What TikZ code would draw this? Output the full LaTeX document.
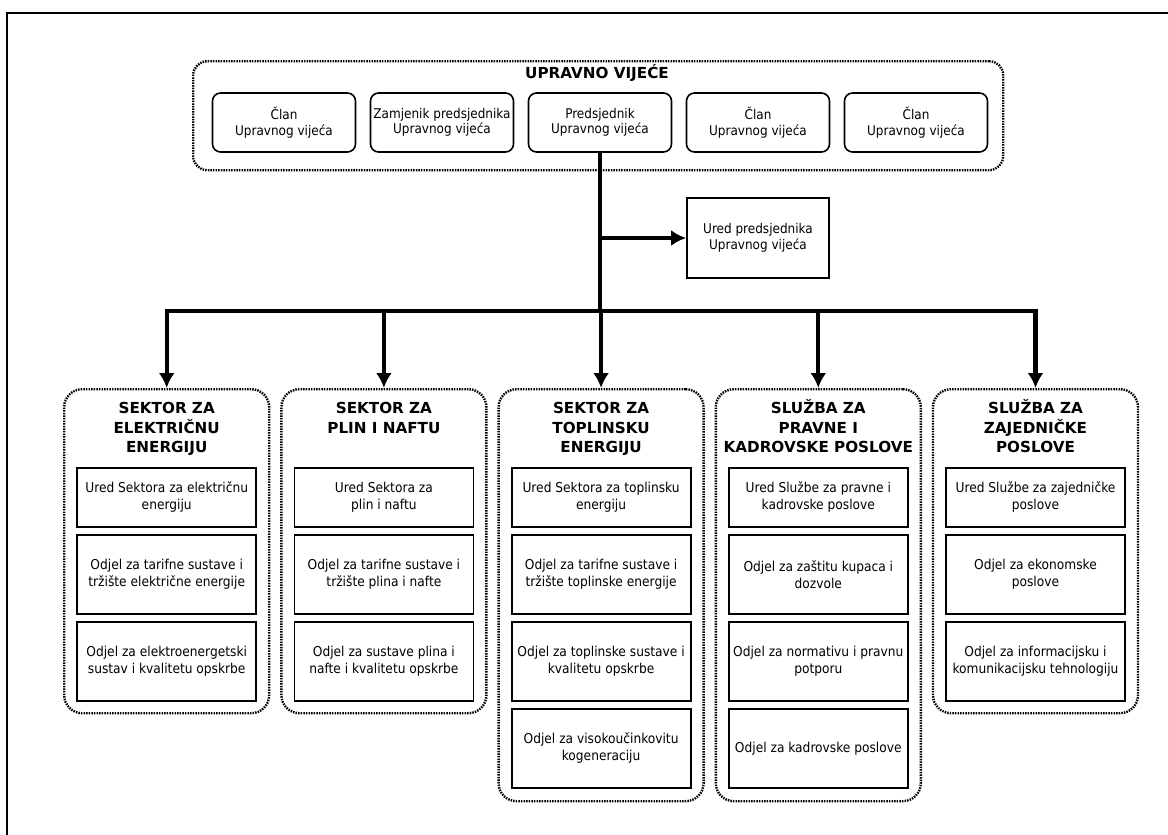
\documentclass[tikz,border=0pt]{standalone}
\usepackage{fontspec}
\setmainfont{DejaVu Sans}
\newfontfamily\condfont{DejaVu Sans Condensed}
\usetikzlibrary{arrows.meta}
\begin{document}
\begin{tikzpicture}[x=1pt,y=-1pt,
 member/.style={draw,line width=1.6pt,rounded corners=8pt,minimum width=143pt,minimum height=59pt,align=center,font=\condfont\fontsize{13.4}{15.5}\selectfont,inner sep=0pt},
 unit/.style={draw,line width=1.8pt,minimum width=179pt,align=center,font=\condfont\fontsize{13.6}{17}\selectfont,inner sep=0pt,anchor=north},
 grp/.style={draw,line width=2.4pt,dash pattern=on 1.5pt off 1.1pt,rounded corners=18pt,anchor=north west,inner sep=0pt,minimum width=205pt},
 ttl/.style={font=\fontsize{15.2}{19.5}\selectfont\bfseries,align=center,inner sep=0pt,anchor=base},
 conn/.style={line width=4.2pt},
 arr/.style={line width=4.2pt,line cap=rect,-{Latex[length=15pt,width=16pt]}}]
\useasboundingbox (0,0) rectangle (1168,835);
% outer frame
\draw[line width=2pt] (6.5,835) -- (6.5,13) -- (1168,13);

% top board
\node[grp,rounded corners=14pt,minimum width=810pt,minimum height=109pt] (board) at (192,60) {};
\node[ttl] (boardttl) at (597,78) {UPRAVNO VIJEĆE};
\node[member] (m1) at (284,122.5) {Član\\Upravnog vijeća};
\node[member] (m2) at (442,122.5) {Zamjenik predsjednika\\Upravnog vijeća};
\node[member] (pred) at (600,122.5) {Predsjednik\\Upravnog vijeća};
\node[member] (m4) at (758,122.5) {Član\\Upravnog vijeća};
\node[member] (m5) at (916,122.5) {Član\\Upravnog vijeća};

% office
\node[draw,line width=1.8pt,minimum width=142pt,minimum height=80pt,align=center,font=\condfont\fontsize{13.4}{15.5}\selectfont,inner sep=0pt] (ured) at (758,238) {Ured predsjednika\\Upravnog vijeća};

% sectors
\node[grp,minimum height=324pt] (s1) at (63,388) {};
\node[grp,minimum height=324pt] (s2) at (280.2,388) {};
\node[grp,minimum height=412pt] (s3) at (497.4,388) {};
\node[grp,minimum height=412pt] (s4) at (714.6,388) {};
\node[grp,minimum height=324pt] (s5) at (931.8,388) {};

\node[ttl] (t1) at (s1.north |- 0,452.5) {SEKTOR ZA\\ELEKTRIČNU\\ENERGIJU};
\node[ttl] (t2) at (s2.north |- 0,433) {SEKTOR ZA\\PLIN I NAFTU};
\node[ttl] (t3) at (s3.north |- 0,452.5) {SEKTOR ZA\\TOPLINSKU\\ENERGIJU};
\node[ttl] (t4) at (s4.north |- 0,452.5) {SLUŽBA ZA\\PRAVNE I\\KADROVSKE POSLOVE};
\node[ttl] (t5) at (s5.north |- 0,452.5) {SLUŽBA ZA\\ZAJEDNIČKE\\POSLOVE};

% units sector 1
\node[unit,minimum height=59pt] (u11) at (s1.north |- 0,467) {Ured Sektora za električnu\\energiju};
\node[unit,minimum height=79pt] (u12) at (s1.north |- 0,534) {Odjel za tarifne sustave i\\tržište električne energije};
\node[unit,minimum height=79pt] (u13) at (s1.north |- 0,621) {Odjel za elektroenergetski\\sustav i kvalitetu opskrbe};
% sector 2
\node[unit,minimum height=59pt] (u21) at (s2.north |- 0,467) {Ured Sektora za\\plin i naftu};
\node[unit,minimum height=79pt] (u22) at (s2.north |- 0,534) {Odjel za tarifne sustave i\\tržište plina i nafte};
\node[unit,minimum height=79pt] (u23) at (s2.north |- 0,621) {Odjel za sustave plina i\\nafte i kvalitetu opskrbe};
% sector 3
\node[unit,minimum height=59pt] (u31) at (s3.north |- 0,467) {Ured Sektora za toplinsku\\energiju};
\node[unit,minimum height=79pt] (u32) at (s3.north |- 0,534) {Odjel za tarifne sustave i\\tržište toplinske energije};
\node[unit,minimum height=79pt] (u33) at (s3.north |- 0,621) {Odjel za toplinske sustave i\\kvalitetu opskrbe};
\node[unit,minimum height=79pt] (u34) at (s3.north |- 0,708) {Odjel za visokoučinkovitu\\kogeneraciju};
% sector 4
\node[unit,minimum height=59pt] (u41) at (s4.north |- 0,467) {Ured Službe za pravne i\\kadrovske poslove};
\node[unit,minimum height=79pt] (u42) at (s4.north |- 0,534) {Odjel za zaštitu kupaca i\\dozvole};
\node[unit,minimum height=79pt] (u43) at (s4.north |- 0,621) {Odjel za normativu i pravnu\\potporu};
\node[unit,minimum height=79pt] (u44) at (s4.north |- 0,708) {Odjel za kadrovske poslove};
% sector 5
\node[unit,minimum height=59pt] (u51) at (s5.north |- 0,467) {Ured Službe za zajedničke\\poslove};
\node[unit,minimum height=79pt] (u52) at (s5.north |- 0,534) {Odjel za ekonomske\\poslove};
\node[unit,minimum height=79pt] (u53) at (s5.north |- 0,621) {Odjel za informacijsku i\\komunikacijsku tehnologiju};

% connectors
\coordinate (bar) at (600,311);
\coordinate (b1) at (s1.north |- bar);
\coordinate (b2) at (s2.north |- bar);
\coordinate (b3) at (s3.north |- bar);
\coordinate (b4) at (s4.north |- bar);
\coordinate (b5) at (s5.north |- bar);
\coordinate (ub) at (pred.south |- ured.west);
\draw[conn] (pred.south) -- (bar);
\draw[conn] (b1) -- (b5);
\draw[arr] (ub) -- (ured.west);
\draw[arr] (b1) -- (s1.north);
\draw[arr] (b2) -- (s2.north);
\draw[arr] (b3) -- (s3.north);
\draw[arr] (b4) -- (s4.north);
\draw[arr] (b5) -- (s5.north);
\end{tikzpicture}
\end{document}
